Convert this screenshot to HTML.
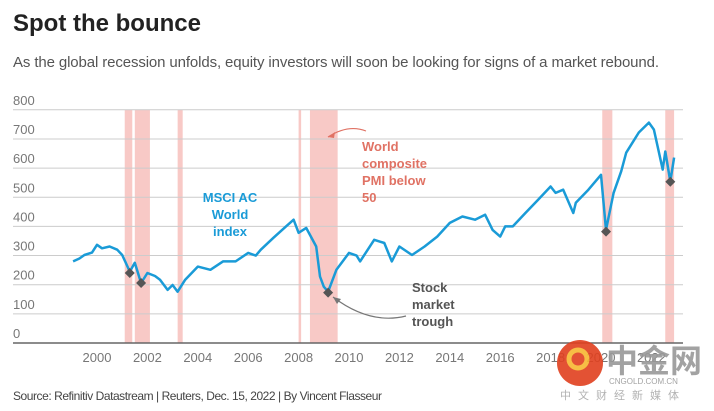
<!DOCTYPE html>
<html><head><meta charset="utf-8">
<style>
html,body{margin:0;padding:0;background:#fff;}
svg{display:block;font-family:"Liberation Sans","Noto Sans CJK SC",sans-serif;}
</style></head>
<body>
<svg id="chart" width="714" height="411" viewBox="0 0 714 411">
  <text x="13" y="31" font-size="24" font-weight="bold" fill="#222" textLength="188">Spot the bounce</text>
  <text x="13" y="67" font-size="15" fill="#555" textLength="646">As the global recession unfolds, equity investors will soon be looking for signs of a market rebound.</text>
  <g id="bands"></g>
  <g id="grid"></g>
  <g id="xaxis"></g>
  <path id="line" fill="none" stroke="#1a9bd7" stroke-width="2.5" stroke-linejoin="round"></path>
  <g id="marks"></g>
  <text x="230" y="202" font-size="13" font-weight="bold" fill="#1a9bd7" text-anchor="middle"><tspan x="230">MSCI AC</tspan><tspan x="230" dy="17">World</tspan><tspan x="230" dy="17">index</tspan></text>
  <text x="362" y="151" font-size="13" font-weight="bold" fill="#e07264"><tspan x="362">World</tspan><tspan x="362" dy="17">composite</tspan><tspan x="362" dy="17">PMI below</tspan><tspan x="362" dy="17">50</tspan></text>
  <path d="M366,131 Q348,124 328,137" fill="none" stroke="#e07264" stroke-width="1.2"/>
  <path d="M328,137 l7,-5 l-1,6 z" fill="#e07264"/>
  <text x="412" y="292" font-size="13" font-weight="bold" fill="#555"><tspan x="412">Stock</tspan><tspan x="412" dy="17">market</tspan><tspan x="412" dy="17">trough</tspan></text>
  <path d="M406,316 Q370,325 333,297" fill="none" stroke="#777" stroke-width="1.2"/>
  <path d="M333,297 l8,2 l-4,5 z" fill="#777"/>
  <text x="13" y="400" font-size="12" fill="#444" textLength="369">Source: Refinitiv Datastream | Reuters, Dec. 15, 2022 | By Vincent Flasseur</text>
  <g opacity="0.9">
    <circle cx="580" cy="363" r="23" fill="#e0401f"/>
    <circle cx="578" cy="359" r="9" fill="none" stroke="#f7b731" stroke-width="5"/>
    <text x="606" y="372" font-size="32" font-weight="bold" fill="#999">中金网</text>
    <text x="609" y="384" font-size="8" fill="#999">CNGOLD.COM.CN</text>
    <text x="560" y="399" font-size="11" fill="#aaa" letter-spacing="7">中文财经新媒体</text>
  </g>
</svg>
<script>
const yTicks = [0,100,200,300,400,500,600,700,800];
const xTicks = [2000,2002,2004,2006,2008,2010,2012,2014,2016,2018,2020,2022];
const bandStarts = [2001.1,2001.5,2003.2,2008.0,2008.45,2020.05,2022.55];
const bandEnds   = [2001.4,2002.1,2003.4,2008.1,2009.55,2020.45,2022.9];
const dates = [1999.05,1999.3,1999.5,1999.8,2000.0,2000.2,2000.5,2000.8,2001.0,2001.3,2001.5,2001.75,2002.0,2002.3,2002.5,2002.8,2003.0,2003.2,2003.5,2004.0,2004.5,2005.0,2005.5,2006.0,2006.3,2006.5,2007.0,2007.5,2007.8,2008.0,2008.3,2008.7,2008.85,2009.0,2009.17,2009.5,2010.0,2010.3,2010.44,2011.0,2011.4,2011.7,2012.0,2012.5,2013.0,2013.5,2014.0,2014.5,2015.0,2015.4,2015.7,2016.0,2016.2,2016.5,2017.0,2017.5,2018.0,2018.2,2018.5,2018.9,2019.0,2019.5,2020.0,2020.2,2020.5,2020.8,2021.0,2021.5,2021.9,2022.1,2022.3,2022.45,2022.55,2022.75,2022.9];
const values = [280,290,302,310,337,325,331,320,302,245,275,206,240,230,217,182,199,176,217,262,251,280,280,309,300,320,361,400,423,378,395,331,228,193,176,251,309,300,280,354,343,280,331,302,331,365,412,434,423,440,388,365,400,400,446,491,537,515,526,446,481,526,577,388,515,589,653,722,756,732,653,595,657,554,636];
const troughDates = [2001.3,2001.75,2009.17,2020.2,2022.75];
const troughValues = [240,206,173,382,553];

const NS='http://www.w3.org/2000/svg';
const x0=97, pxPerYear=25.2, yBase=343, pxPerUnit=0.2915;
const X = d => x0 + (d-2000)*pxPerYear;
const Y = v => yBase - v*pxPerUnit;
function mk(tag, attrs, parent){const e=document.createElementNS(NS,tag);for(const k in attrs)e.setAttribute(k,attrs[k]);parent.appendChild(e);return e;}

const bands=document.getElementById('bands');
bandStarts.forEach((s,i)=>{
  const r=mk('rect',{x:X(s),y:Y(800),width:X(bandEnds[i])-X(s),height:Y(0)-Y(800),fill:'#f8c9c6'},bands);
  
  
});
const grid=document.getElementById('grid');
yTicks.forEach(v=>{
  if(v>0){const l=mk('line',{x1:13,x2:683,y1:Y(v),y2:Y(v),stroke:'#ccc','stroke-width':1},grid);
  
  }
  const t=mk('text',{x:13,y:Y(v)-5,'font-size':13,fill:'#777'},grid);
  t.textContent=v;
  
  
});
const xa=document.getElementById('xaxis');
const axis=mk('line',{x1:13,x2:683,y1:Y(0),y2:Y(0),stroke:'#666','stroke-width':1.5},xa);


xTicks.forEach(d=>{
  const t=mk('text',{x:X(d),y:362,'font-size':13,fill:'#777','text-anchor':'middle'},xa);
  t.textContent=d;
  
  
});
document.getElementById('line').setAttribute('d',dates.map((d,i)=>(i?'L':'M')+X(d).toFixed(1)+','+Y(values[i]).toFixed(1)).join(' '));
const marks=document.getElementById('marks');
troughDates.forEach((d,i)=>{
  const cx=X(d), cy=Y(troughValues[i]);
  const p=mk('path',{d:`M${cx},${cy-5} L${cx+5},${cy} L${cx},${cy+5} L${cx-5},${cy} Z`,fill:'#555'},marks);
  
  
});
</script>
</body></html>
